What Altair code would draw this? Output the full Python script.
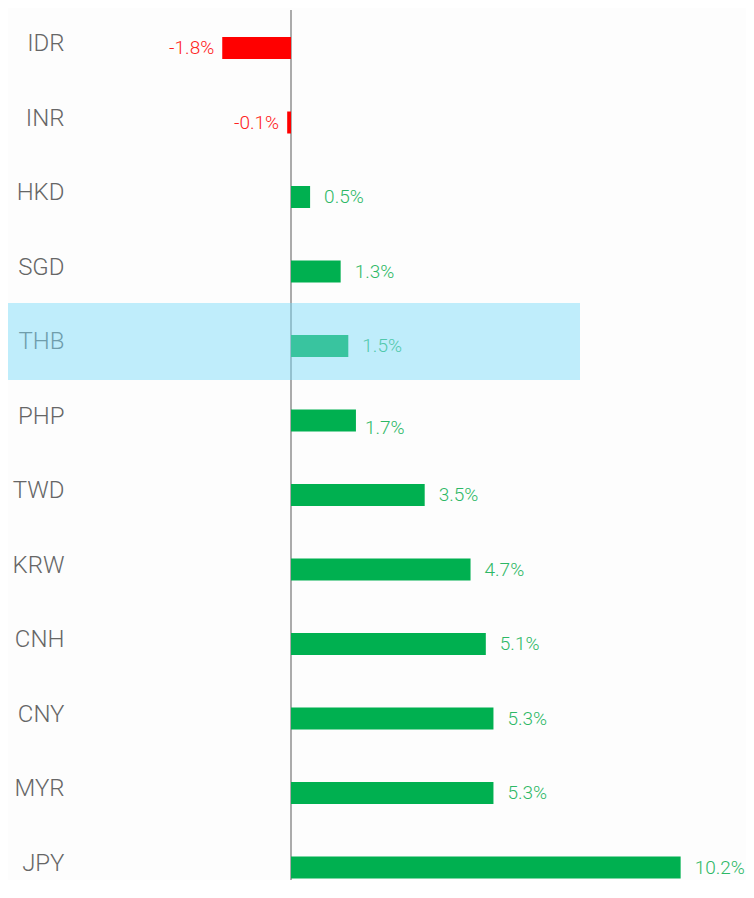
import altair as alt
import pandas as pd

currencies = ["IDR", "INR", "HKD", "SGD", "THB", "PHP", "TWD", "KRW", "CNH", "CNY", "MYR", "JPY"]
changes = [-1.8, -0.1, 0.5, 1.3, 1.5, 1.7, 3.5, 4.7, 5.1, 5.3, 5.3, 10.2]
highlight = ["THB"]
shifted_label = ["PHP"]

df = pd.DataFrame({
    "cur": currencies,
    "change": changes,
    "label": [f"{v:.1f}%" for v in changes],
})

FONT = "Roboto"
W = 738
PX_PER_UNIT = 38.2
ZERO_PX = 283
yscale = alt.Scale(domain=currencies, range=[2.75, 896.75], paddingInner=0, paddingOuter=0)
xscale = alt.Scale(domain=[-ZERO_PX / PX_PER_UNIT, (W - ZERO_PX) / PX_PER_UNIT], nice=False, zero=False)
Y = alt.Y("cur:N", scale=yscale, axis=None)
X = alt.X("change:Q", scale=xscale, axis=None)

base = alt.Chart(df)

bars = base.mark_bar(size=22).encode(
    y=Y,
    x=X,
    x2=alt.datum(0),
    color=alt.condition(alt.datum.change < 0, alt.value("#FF0000"), alt.value("#00B050")),
)

zero_line = alt.Chart(pd.DataFrame({"z": [0]})).mark_rule(color="#ABABAB", strokeWidth=2).encode(
    x=alt.X("z:Q", scale=xscale, axis=None),
    y=alt.value(2),
    y2=alt.value(872),
)

cat_text = base.mark_text(align="right", baseline="middle", dy=-4, fontSize=24,
                          font=FONT, fontWeight=300, color="#666666").encode(
    y=Y,
    x=alt.value(56.5),
    text="cur:N",
)

pos_text = base.transform_filter(
    (alt.datum.change >= 0) & (alt.datum.cur != shifted_label[0])
).mark_text(align="left", baseline="middle", dx=14, fontSize=19, font=FONT,
            fontWeight=300, color="#2DB866").encode(y=Y, x=X, text="label:N")

shift_text = base.transform_filter(
    alt.datum.cur == shifted_label[0]
).mark_text(align="left", baseline="middle", dx=9, dy=7.5, fontSize=19, font=FONT,
            fontWeight=300, color="#2DB866").encode(y=Y, x=X, text="label:N")

neg_text = base.transform_filter(alt.datum.change < 0).mark_text(
    align="right", baseline="middle", dx=-8, fontSize=19, font=FONT,
    fontWeight=300, color="#FF2020").encode(y=Y, x=X, text="label:N")

band = alt.Chart(pd.DataFrame({"cur": highlight})).mark_bar(
    size=77, yOffset=-4.5, color="#79DAF9", opacity=0.47).encode(
    y=Y,
    x=alt.value(0),
    x2=alt.value(572),
)

chart = alt.layer(zero_line, bars, cat_text, pos_text, shift_text, neg_text, band).properties(
    width=W, height=872, padding=0, autosize="none", background="#FDFDFD"
).configure_view(stroke=None)

chart.save("out.html", embed_options={"renderer": "svg", "actions": False})
